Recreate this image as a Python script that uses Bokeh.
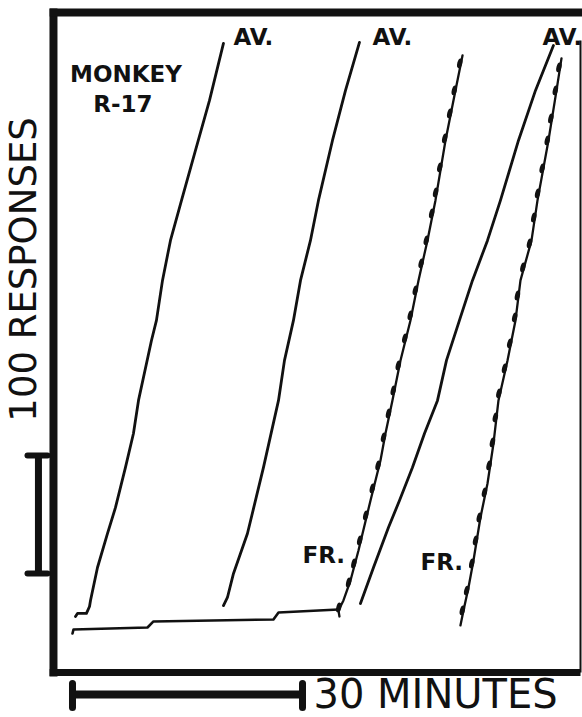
import numpy as np
from bokeh.plotting import figure
from bokeh.models import Range1d
from bokeh.core.properties import value
from bokeh.embed import file_html
from bokeh.resources import INLINE

# ---------------- data: minutes / cumulative responses (position on the record) ----------------
# first avoidance (AV.) record
av1_min = [2.87, 3.13, 4.30, 4.70, 4.83, 5.74, 7.04, 8.09, 9.39, 10.43, 11.09, 12.78,
           13.43, 14.22, 15.26, 16.70, 18.52, 20.35, 22.17]
av1_resp = [46.6, 49.2, 49.2, 55.1, 60.2, 88.1, 116.9, 139.0, 172.9, 201.7, 229.7, 280.5,
            297.5, 331.4, 365.3, 399.2, 441.5, 483.9, 532.2]

# second avoidance (AV.) record
av2_min = [22.17, 22.69, 23.48, 25.30, 27.39, 29.35, 30.13, 31.30, 32.22, 33.52, 34.56,
           36.39, 38.09, 39.91]
av2_resp = [55.9, 62.7, 83.1, 116.9, 172.9, 229.7, 263.6, 297.5, 331.4, 365.3, 399.2,
            450.0, 492.4, 533.1]

# low-rate baseline pen trace leading into the first FR record
base_min = [2.48, 2.61, 12.26, 13.04, 28.69, 29.35, 37.17]
base_resp = [32.2, 35.6, 37.3, 42.4, 44.1, 50.0, 52.5]

# first fixed-ratio (FR.) record
fr1_min = [37.30, 37.17, 37.82, 38.74, 39.78, 41.35, 42.65, 43.30, 44.21, 45.26, 46.56, 47.61,
           48.78, 49.82, 51.13, 52.43, 53.35]
fr1_resp = [46.6, 51.7, 60.2, 77.1, 102.5, 144.9, 178.8, 201.7, 229.7, 263.6, 297.5, 331.4,
            365.3, 399.2, 450.0, 492.4, 522.0]
fr1_pips = [54.2, 75.4, 91.5, 111.0, 132.2, 155.1, 174.6, 198.3, 218.6, 238.1, 259.3,
            282.2, 301.7, 322.9, 345.8, 365.3, 388.1, 405.9, 427.1, 451.7, 472.9, 492.4, 515.3]

# third avoidance (AV.) record
av3_min = [40.04, 41.74, 43.69, 45.13, 46.82, 48.39, 50.09, 51.26, 52.95, 54.65, 56.61,
           58.30, 60.65, 62.87, 65.21]
av3_resp = [57.6, 88.1, 122.0, 144.9, 172.9, 201.7, 229.7, 263.6, 297.5, 331.4, 365.3,
            399.2, 450.0, 492.4, 530.5]

# second fixed-ratio (FR.) record
fr2_min = [53.08, 53.48, 54.13, 54.78, 55.69, 56.61, 57.39, 58.04, 59.22, 60.26, 60.91,
           62.35, 63.13, 64.56, 65.61, 66.26]
fr2_resp = [39.0, 51.7, 71.2, 94.1, 130.5, 159.3, 193.2, 229.7, 263.6, 297.5, 331.4,
            365.3, 399.2, 450.0, 492.4, 519.5]
fr2_pips = [51.7, 68.6, 91.5, 111.0, 130.5, 151.7, 174.6, 194.1, 215.3, 235.6, 256.8,
            278.0, 300.0, 318.6, 342.4, 362.7, 384.7, 405.1, 426.3, 450.0, 468.6, 492.4, 511.9]

# curve labels
label_text = ["AV.", "AV.", "AV.", "FR.", "FR."]
label_min = [23.48, 41.61, 63.78, 32.48, 47.87]
label_resp = [537.3, 537.3, 537.3, 98.3, 92.4]

# calibration bars
scale_resp = 100   # responses
scale_minutes = 30  # minutes
vbar_min, vbar_resp0 = -1.96, 83.1
hbar_min0, hbar_resp = 2.48, -19.5

# record frame (paper edges)
frame_left, frame_right = 0.0, 68.74
frame_bottom, frame_top = -0.8, 558.5

# ---------------- figure ----------------
p = figure(width=582, height=717,
           x_range=Range1d(-6.91, 69.0), y_range=Range1d(-39.0, 568.6),
           output_backend="svg", toolbar_location=None,
           x_axis_type=None, y_axis_type=None, min_border=0)
p.outline_line_color = None
p.background_fill_color = "white"
p.border_fill_color = "white"

ink = "#111111"

# frame
p.line([frame_left, frame_left], [-4.2, 561.9], line_color=ink, line_width=8)
p.line([frame_left - 0.5, 69.0], [frame_top, frame_top], line_color=ink, line_width=8)
p.line([frame_left - 0.5, frame_right], [frame_bottom, frame_bottom], line_color=ink, line_width=7)
p.line([frame_right, frame_right], [frame_bottom, 534.7], line_color=ink, line_width=2)

# records
common = dict(line_color=ink, line_join="round", line_cap="round")
p.line(base_min, base_resp, line_width=2.6, **common)
p.line(av1_min, av1_resp, line_width=2.8, **common)
p.line(av2_min, av2_resp, line_width=2.8, **common)
p.line(av3_min, av3_resp, line_width=2.8, **common)
p.line(fr1_min, fr1_resp, line_width=2.3, **common)
p.line(fr2_min, fr2_resp, line_width=2.3, **common)

# reinforcement pips on the FR records
for cm, cr, pips in ((fr1_min[1:], fr1_resp[1:], fr1_pips), (fr2_min, fr2_resp, fr2_pips)):
    px = np.interp(pips, cr, cm) - 0.15
    p.ellipse(x=px, y=pips, width=5, height=10, width_units="screen",
              height_units="screen", angle=-0.25, fill_color=ink, line_color=None)

# labels
p.text(x=label_min, y=label_resp, text=label_text, text_font=value("DejaVu Sans"),
       text_font_style="bold", text_font_size="23px", text_color=ink,
       text_align="left", text_baseline="middle")
p.text(x=[9.46, 9.06], y=[505.9, 480.5], text=["MONKEY", "R-17"],
       text_font=value("DejaVu Sans"), text_font_style="bold", text_font_size="23px",
       text_color=ink, text_align="center", text_baseline="middle")

# vertical calibration bar: 100 responses
p.line([vbar_min, vbar_min], [vbar_resp0, vbar_resp0 + scale_resp], line_color=ink, line_width=7)
for yy in (vbar_resp0, vbar_resp0 + scale_resp):
    p.line([vbar_min - 1.43, vbar_min + 1.18], [yy, yy], line_color=ink, line_width=6, line_cap="round")
p.text(x=[-3.91], y=[340.7], text=["100 RESPONSES"], angle=np.pi / 2,
       text_font=value("DejaVu Sans"), text_font_size="37px", text_color=ink,
       text_align="center", text_baseline="middle")

# horizontal calibration bar: 30 minutes
p.line([hbar_min0, hbar_min0 + scale_minutes], [hbar_resp, hbar_resp], line_color=ink, line_width=8)
for xx in (hbar_min0, hbar_min0 + scale_minutes):
    p.line([xx, xx], [hbar_resp + 9.3, hbar_resp - 11.0], line_color=ink, line_width=7, line_cap="round")
p.text(x=[33.91], y=[-19.0], text=["30 MINUTES"], text_font=value("DejaVu Sans"),
       text_font_size="40px", text_color=ink, text_align="left", text_baseline="middle")

open("out.html", "w").write(file_html(p, INLINE))
